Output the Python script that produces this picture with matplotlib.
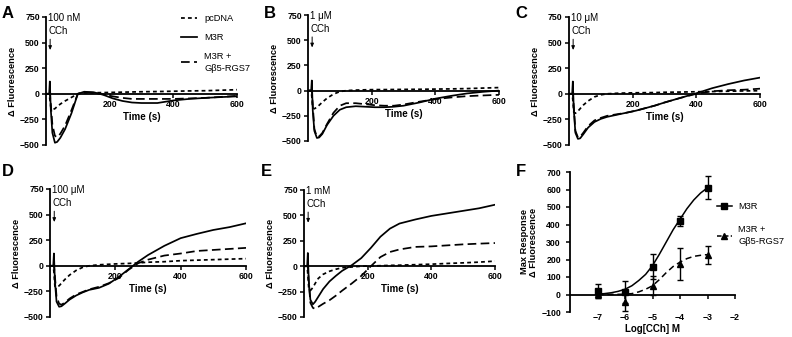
import matplotlib
matplotlib.use('Agg')
import matplotlib.pyplot as plt
from matplotlib.lines import Line2D
import numpy as np

plt.rcParams['font.family'] = ['Liberation Sans', 'DejaVu Sans']
plt.rcParams['font.size'] = 6.5

# ---------------------------------------------------------------------------
# DATA
# ---------------------------------------------------------------------------

t = [0, 10, 12, 15, 20, 28, 35, 45, 60, 80, 100, 120, 150, 180, 210, 240,
     270, 300, 350, 400, 450, 500, 550, 600]

# panel A, 100 nM CCh
a_pcdna = [0, 0, -50, -130, -155, -145, -125, -100, -70, -35, 0, 10, 10, 12,
           14, 16, 18, 20, 22, 25, 28, 30, 35, 40]
a_m3r = [0, 0, 120, -150, -380, -478, -470, -430, -345, -190, 0, 20, 15, -10,
         -45, -70, -85, -90, -90, -65, -50, -40, -32, -25]
a_rgs = [0, 0, 0, -100, -300, -410, -425, -390, -310, -160, 0, 15, 10, -5,
         -25, -40, -50, -50, -50, -50, -45, -40, -30, -20]

# panel B, 1 uM CCh
b_pcdna = [0, 0, -60, -175, -180, -165, -145, -115, -75, -35, -10, 0, 5, 8,
           10, 10, 11, 12, 13, 15, 17, 20, 25, 30]
b_m3r = [0, 0, 100, -200, -400, -470, -465, -430, -340, -250, -190, -165,
         -155, -160, -165, -165, -160, -150, -118, -80, -52, -28, -12, 0]
b_rgs = [0, 0, 0, -150, -380, -460, -455, -420, -330, -220, -150, -125, -125,
         -135, -145, -150, -150, -138, -110, -85, -68, -55, -48, -42]

# panel C, 10 uM CCh
c_pcdna = [0, 0, -60, -180, -190, -170, -145, -110, -70, -30, -10, 0, 5, 8,
           10, 11, 12, 15, 17, 20, 22, 25, 28, 30]
c_m3r = [0, 0, 120, -150, -380, -440, -435, -395, -330, -275, -245, -225,
         -205, -185, -165, -140, -115, -85, -40, 5, 55, 95, 130, 158]
c_rgs = [0, 0, 0, -120, -360, -425, -420, -380, -315, -260, -235, -215, -200,
         -185, -165, -140, -115, -85, -40, 0, 25, 35, 40, 50]

# panel D, 100 uM CCh
d_pcdna = [0, 0, -60, -200, -210, -195, -170, -135, -90, -45, -15, 0, 10, 15,
           20, 23, 28, 35, 40, 50, 55, 60, 65, 70]
d_m3r = [0, 0, 120, -150, -350, -400, -395, -370, -330, -290, -260, -235,
         -215, -175, -110, -35, 40, 105, 195, 270, 312, 350, 378, 415]
d_rgs = [0, 0, 0, -100, -300, -370, -380, -360, -320, -280, -255, -230, -205,
         -170, -120, -40, 25, 60, 100, 120, 145, 155, 165, 175]

# panel E, 1 mM CCh
e_pcdna = [0, 0, -80, -220, -240, -210, -170, -120, -80, -50, -30, -15, -8,
           0, 2, 5, 8, 10, 15, 20, 27, 33, 40, 50]
e_m3r = [0, 0, 130, -150, -330, -375, -350, -300, -225, -150, -95, -45, 10,
         80, 180, 290, 370, 420, 460, 495, 520, 545, 570, 605]
e_rgs = [0, 0, 0, -150, -360, -410, -420, -400, -370, -335, -290, -240, -170,
         -95, 0, 90, 140, 165, 190, 195, 205, 215, 222, 228]

# panel F, concentration response
log_cch = [-7, -6, -5, -4, -3]
max_m3r = [20, 15, 160, 420, 610]
err_m3r = [42, 62, 72, 30, 65]
max_rgs = [5, -45, 50, 175, 225]
err_rgs = [25, 50, 55, 90, 50]

fit_x = [-7, -6.75, -6.5, -6.25, -6, -5.75, -5.5, -5.25, -5, -4.75, -4.5,
         -4.25, -4, -3.75, -3.5, -3.25, -3]
fit_m3r = [2, 5, 10, 18, 30, 50, 80, 115, 165, 230, 300, 370, 430, 490, 540,
           580, 610]
fit_rgs = [0, 0, 1, 1, 2, 5, 15, 30, 50, 85, 125, 160, 185, 205, 218, 224,
           228]

doses = ['100 nM', '1 \u03bcM', '10 \u03bcM', '100 \u03bcM', '1 mM']

# ---------------------------------------------------------------------------
# FIGURE
# ---------------------------------------------------------------------------
W, H = 792, 337
fig = plt.figure(figsize=(W / 100, H / 100), dpi=100)


def box(x0, x1, y0, y1):
    return [x0 / W, 1 - y1 / H, (x1 - x0) / W, (y1 - y0) / H]


lw = 1.25
dot_style = (0, (2.2, 1.8))
dash_style = (0, (5, 2.5))


def trace_axes(pos, pc, m3, rg, dose):
    ax = fig.add_axes(pos)
    ax.plot(t, pc, color='black', lw=lw, ls=dot_style, label='pcDNA')
    ax.plot(t, m3, color='black', lw=lw, ls='-', label='M3R')
    ax.plot(t, rg, color='black', lw=lw, ls=dash_style,
            label='M3R +\nG\u03b25-RGS7')
    ax.set_xlim(0, 600)
    ax.set_ylim(-500, 750)
    ax.spines['top'].set_visible(False)
    ax.spines['right'].set_visible(False)
    ax.spines['bottom'].set_position(('data', 0))
    for s in ['left', 'bottom']:
        ax.spines[s].set_linewidth(1.3)
    ax.set_xticks([200, 400, 600])
    ax.set_yticks([-500, -250, 0, 250, 500, 750])
    ax.tick_params(width=1.1, length=3, pad=1.5, labelsize=6.3)
    for lab in ax.get_xticklabels() + ax.get_yticklabels():
        lab.set_fontweight('bold')
    ax.set_xlabel('Time (s)', fontsize=7, fontweight='bold', labelpad=2)
    ax.set_ylabel('\u0394 Fluorescence', fontsize=6.7, fontweight='bold',
                  labelpad=2)
    ax.text(7, 738, dose, fontsize=7, va='center', ha='left')
    ax.text(7, 612, 'CCh', fontsize=7, va='center', ha='left')
    ax.annotate('', xy=(13, 400), xytext=(13, 560),
                arrowprops=dict(arrowstyle='-|>,head_width=0.15,head_length=0.35',
                                color='black', lw=0.7))
    return ax


ax_a = trace_axes(box(46, 237, 17, 145), a_pcdna, a_m3r, a_rgs, doses[0])
ax_b = trace_axes(box(308, 499, 15, 141), b_pcdna, b_m3r, b_rgs, doses[1])
ax_c = trace_axes(box(569, 760, 17, 145), c_pcdna, c_m3r, c_rgs, doses[2])
ax_d = trace_axes(box(50, 246, 189, 317), d_pcdna, d_m3r, d_rgs, doses[3])
ax_e = trace_axes(box(304, 495, 190, 317), e_pcdna, e_m3r, e_rgs, doses[4])

leg_a = ax_a.legend(loc='upper left', bbox_to_anchor=(181 / W, 1 - 14 / H),
                    bbox_transform=fig.transFigure, frameon=False,
                    fontsize=6.7, handlelength=1.7, handletextpad=0.8,
                    labelspacing=1.05, borderaxespad=0, borderpad=0)
for txt in leg_a.get_texts():
    txt.set_linespacing(1.45)

# panel F
ax_f = fig.add_axes(box(570, 735, 172, 312))
ax_f.plot(fit_x, fit_m3r, color='black', lw=1.1, ls='-')
ax_f.plot(fit_x, fit_rgs, color='black', lw=1.1, ls=(0, (4, 2.5)))
ax_f.errorbar(log_cch, max_m3r, yerr=err_m3r, fmt='s', color='black', ms=4.3,
              capsize=2.5, elinewidth=1.0, capthick=1.0)
ax_f.errorbar(log_cch, max_rgs, yerr=err_rgs, fmt='^', color='black', ms=4.3,
              capsize=2.5, elinewidth=1.0, capthick=1.0)
ax_f.set_xlim(-8, -2)
ax_f.set_ylim(-100, 700)
ax_f.spines['top'].set_visible(False)
ax_f.spines['right'].set_visible(False)
ax_f.spines['bottom'].set_position(('data', 0))
for s in ['left', 'bottom']:
    ax_f.spines[s].set_linewidth(1.3)
ax_f.set_xticks([-7, -6, -5, -4, -3, -2])
ax_f.set_yticks(np.arange(-100, 701, 100))
ax_f.tick_params(width=1.1, length=3, labelsize=6.3)
ax_f.tick_params(axis='x', pad=10)
for lab in ax_f.get_xticklabels() + ax_f.get_yticklabels():
    lab.set_fontweight('bold')
ax_f.set_xlabel('Log[CCh] M', fontsize=7, fontweight='bold', labelpad=2)
ax_f.set_ylabel('Max Response\n\u0394 Fluorescence', fontsize=6.7,
                fontweight='bold', labelpad=2, linespacing=1.1)
f_handles = [Line2D([], [], color='black', lw=1.1, marker='s', ms=4.3),
             Line2D([], [], color='black', lw=1.1, ls=(0, (3, 1.5)),
                    marker='^', ms=4.3)]
leg_f = ax_f.legend(f_handles, ['M3R', 'M3R +\nG\u03b25-RGS7'],
                    loc='upper left', bbox_to_anchor=(717 / W, 1 - 202 / H),
                    bbox_transform=fig.transFigure, frameon=False,
                    fontsize=6.7, handlelength=1.6, handletextpad=0.7,
                    labelspacing=1.55, borderaxespad=0, borderpad=0)
for txt in leg_f.get_texts():
    txt.set_linespacing(1.3)

# panel letters
for letter, x, y in [('A', 2, 13), ('B', 264, 13), ('C', 515, 13),
                     ('D', 2, 171), ('E', 261, 171), ('F', 516, 171)]:
    fig.text(x / W, 1 - y / H, letter, fontsize=12, fontweight='bold',
             ha='left', va='center')

fig.savefig('out.png', dpi=100)
